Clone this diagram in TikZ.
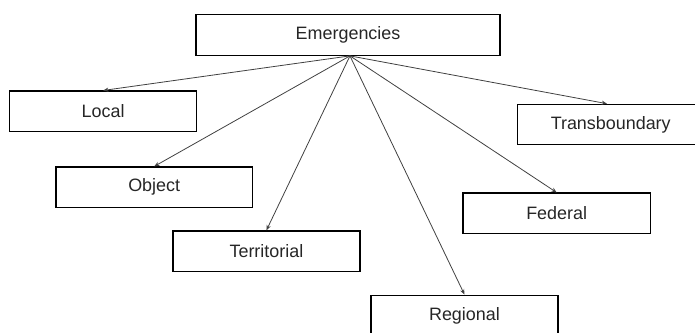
\documentclass[tikz,border=0pt]{standalone}
\usepackage{fontspec}
\setmainfont{Liberation Sans}
\usetikzlibrary{arrows.meta}

\tikzstyle{rec} = [rectangle, minimum width = 4.95cm, minimum height = 1.07cm, text centered, draw = black, line width = 1pt, font = \fontsize{13.5}{16}\selectfont, text = black!85]
\tikzstyle{rec1} = [rec, minimum width = 8.04cm]
\tikzstyle{arrow} = [line width = 0.6pt, -{Stealth[length=4pt, width=3.2pt]}, draw = black!75]

\begin{document}
\begin{tikzpicture}[node distance = 1cm]
        \useasboundingbox (-9.21, 0.926) rectangle (9.18, -7.885);
        \node(emerg)[rec1]{Emergencies};
        \node(local)[rec, below of = emerg, xshift = -6.48cm, yshift = -1.02cm]{Local};
        \node(object)[rec, minimum width = 5.19cm, below of = emerg, xshift = -5.13cm, yshift = -3.03cm]{Object};
        \node(territorial)[rec, below of = emerg, xshift = -2.16cm, yshift = -4.72cm]{Territorial};
        \node(regional)[rec, below of = emerg, xshift = 3.08cm, yshift = -6.42cm]{Regional};
        \node(federal)[rec, below of = emerg, xshift = 5.52cm, yshift = -3.72cm]{Federal};
        \node(transb)[rec, below of = emerg, xshift = 6.95cm, yshift = -1.37cm]{Transboundary};
        \coordinate(hub) at ([xshift = 0.05cm]emerg.south);
        \draw[arrow] (hub) -- (local.north);
        \draw[arrow] (hub) -- (object.north);
        \draw[arrow] (hub) -- (territorial.north);
        \draw[arrow] (hub) -- (regional.north);
        \draw[arrow] (hub) -- (federal.north);
        \draw[arrow] (hub) -- ([xshift = -0.1cm]transb.north);
    \end{tikzpicture}
\end{document}
